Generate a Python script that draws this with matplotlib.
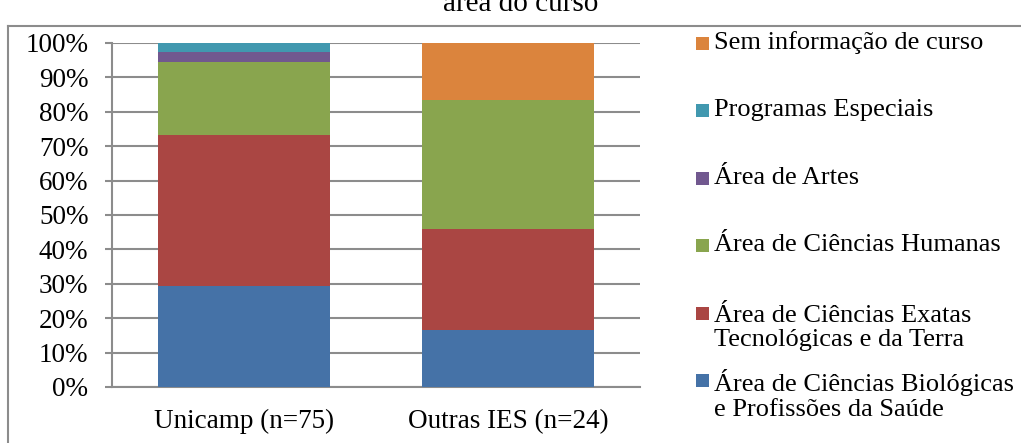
import numpy as np
import matplotlib
matplotlib.use('Agg')
import matplotlib.pyplot as plt
from matplotlib.patches import Rectangle
from matplotlib.lines import Line2D
from matplotlib.ticker import PercentFormatter

plt.rcParams['font.family'] = ['Liberation Serif', 'DejaVu Serif']

groups = ['Unicamp (n=75)', 'Outras IES (n=24)']
# shares (%) per course area, bottom to top
biologicas = [29.3, 16.7]
exatas = [44.0, 29.2]
humanas = [21.3, 37.5]
artes = [2.7, 0.0]
especiais = [2.7, 0.0]
sem_info = [0.0, 16.6]

series = [
    ('Área de Ciências Biológicas\ne Profissões da Saúde', biologicas, '#4572A7'),
    ('Área de Ciências Exatas\nTecnológicas e da Terra', exatas, '#AA4643'),
    ('Área de Ciências Humanas', humanas, '#89A54E'),
    ('Área de Artes', artes, '#71588F'),
    ('Programas Especiais', especiais, '#4198AF'),
    ('Sem informação de curso', sem_info, '#DB843D'),
]

FS = 19.5
W, H = 1021, 443
fig = plt.figure(figsize=(W / 100, H / 100), dpi=100)
ax = fig.add_axes([112 / W, 1 - 387 / H, 528 / W, 344 / H])

x = np.arange(len(groups))
bottom = np.zeros(len(groups))
for label, vals, color in series:
    vals = np.array(vals)
    ax.bar(x, vals, width=0.65, bottom=bottom, color=color, zorder=3)
    bottom += vals

ax.set_xlim(-0.5, 1.5)
ax.set_ylim(0, 100)
ax.set_yticks(np.arange(0, 101, 10))
ax.yaxis.set_major_formatter(PercentFormatter(decimals=0))
ax.set_xticks(x)
ax.set_xticklabels(groups)
ax.grid(axis='y', color='#8c8c8c', linewidth=1.5, zorder=0)
for s in ['top', 'right']:
    ax.spines[s].set_visible(False)
for s in ['left', 'bottom']:
    ax.spines[s].set_color('#8c8c8c')
    ax.spines[s].set_linewidth(1.5)
ax.tick_params(axis='y', length=5, width=1.5, color='#8c8c8c', labelsize=FS, pad=12)
ax.tick_params(axis='x', length=0, labelsize=FS, pad=16)

# legend, evenly spaced like the spreadsheet one
ys = [43, 110, 178, 245, 328, 395]
for (label, vals, color), yy in zip(series[::-1], ys):
    nl = label.count('\n') + 1
    ytop = yy - (nl - 1) * 15
    fig.patches.append(Rectangle((696 / W, 1 - (ytop + 6.5) / H), 13 / W, 13 / H,
                                 transform=fig.transFigure, facecolor=color, edgecolor='none'))
    fig.text(714 / W, 1 - yy / H, label, fontsize=19, va='center', ha='left', linespacing=1.15)

# title cut at the top of the picture
fig.text(521 / W, 1 - 11 / H, 'área do curso', fontsize=21, ha='center', va='baseline')

# outer frame
fig.add_artist(Line2D([8 / W, 1], [1 - 26 / H, 1 - 26 / H], color='#8c8c8c', linewidth=1.5,
                      transform=fig.transFigure))
fig.add_artist(Line2D([8 / W, 8 / W], [0, 1 - 26 / H], color='#8c8c8c', linewidth=1.5,
                      transform=fig.transFigure))

fig.savefig('out.png', dpi=100)
